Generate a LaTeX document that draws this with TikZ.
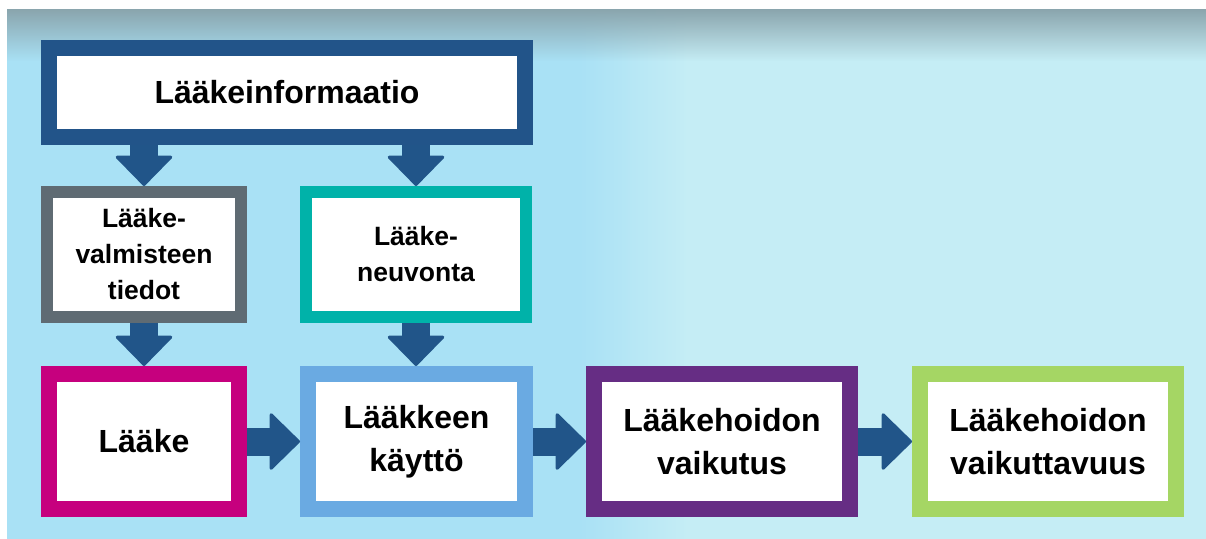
\documentclass[tikz,border=0pt]{standalone}
\usepackage{fontspec}
\setmainfont{Liberation Sans}
\usetikzlibrary{arrows.meta}

\definecolor{bgleft}{HTML}{A9E1F5}
\definecolor{bgright}{HTML}{C5EDF5}
\definecolor{bgtop}{HTML}{8AA5AD}
\definecolor{arrowblue}{HTML}{215589}
\definecolor{infoblue}{HTML}{225489}
\definecolor{slategrey}{HTML}{5F6B73}
\definecolor{teal}{HTML}{00B2A9}
\definecolor{magenta}{HTML}{C6007E}
\definecolor{skyblue}{HTML}{6AAAE2}
\definecolor{violet}{HTML}{662D84}
\definecolor{lime}{HTML}{A5D664}

\tikzset{
  bigbox/.style={draw=#1, fill=white, line width=16pt, align=center,
    minimum height=135pt, font=\bfseries\fontsize{32}{43}\selectfont},
  smallbox/.style={draw=#1, fill=white, line width=12pt, align=center,
    minimum height=125pt, font=\bfseries\fontsize{26.5}{36}\selectfont},
  flow/.style={draw=arrowblue, line width=28pt,
    -{Triangle[width=60pt 0 0, length=31pt 0 0, line width=3pt, round]}}
}

\begin{document}
\begin{tikzpicture}[x=1pt, y=-1pt]
    \useasboundingbox (0,0) rectangle (1206,538);
    % background
    \fill[white] (0,0) rectangle (1240,570);
    \fill[bgleft] (7,9) rectangle (580,570);
    \fill[bgright] (690,9) rectangle (1240,570);
    \foreach \i in {0,...,54} {
        \pgfmathsetmacro{\pct}{100-\i*100/54}
        \fill[bgleft!\pct!bgright] (580+2*\i,9) rectangle (582.5+2*\i,570);
    }
    % dark band along the top edge
    \foreach \i in {0,...,51} {
        \pgfmathsetmacro{\op}{1-\i/52}
        \fill[bgtop, opacity=\op] (7,9+\i) rectangle (1240,10+\i);
    }
    % top box
    \node[bigbox=infoblue, minimum width=476pt, minimum height=89pt]
        (info) at (287,92.5) {Lääkeinformaatio};
    % middle row
    \node[smallbox=slategrey, minimum width=194pt]
        (valmiste) at (144,254.5) {Lääke-\\valmisteen\\tiedot};
    \node[smallbox=teal, minimum width=220pt]
        (neuvonta) at (416,254.5) {Lääke-\\neuvonta};
    % bottom row
    \node[bigbox=magenta, minimum width=190pt]
        (laake) at (144,441.5) {Lääke};
    \node[bigbox=skyblue, minimum width=217pt]
        (kaytto) at (416.5,441.5) {Lääkkeen\\käyttö};
    \node[bigbox=violet, minimum width=256pt]
        (vaikutus) at (722,441.5) {Lääkehoidon\\vaikutus};
    \node[bigbox=lime, minimum width=256pt]
        (vaikuttavuus) at (1048,441.5) {Lääkehoidon\\vaikuttavuus};
    % arrows
    \draw[flow] (info.south -| valmiste.north) -- (valmiste.north);
    \draw[flow] (info.south -| neuvonta.north) -- (neuvonta.north);
    \draw[flow] (valmiste.south) -- (laake.north);
    \draw[flow] (neuvonta.south) -- (neuvonta.south |- kaytto.north);
    \draw[flow] (laake.east) -- (kaytto.west);
    \draw[flow] (kaytto.east) -- (vaikutus.west);
    \draw[flow] (vaikutus.east) -- (vaikuttavuus.west);
\end{tikzpicture}
\end{document}
